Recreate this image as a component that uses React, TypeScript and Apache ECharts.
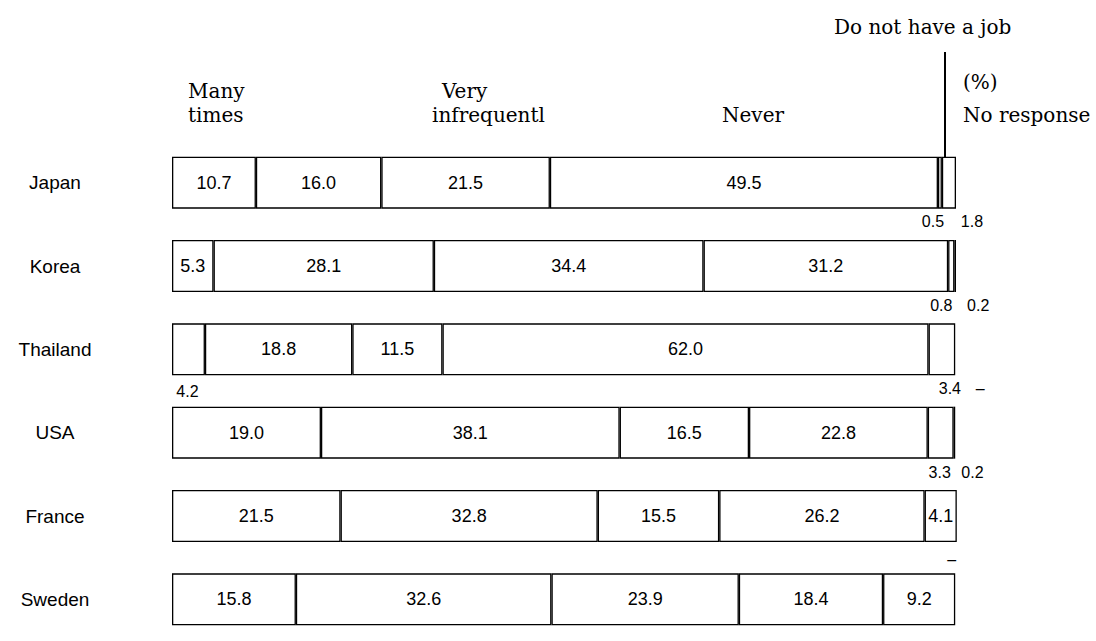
import React, { useEffect, useRef } from 'react';
import * as echarts from 'echarts';

const categories = ['Japan', 'Korea', 'Thailand', 'USA', 'France', 'Sweden'];
const manyTimes = [10.7, 5.3, 4.2, 19.0, 21.5, 15.8];
const sometimes = [16.0, 28.1, 18.8, 38.1, 32.8, 32.6];
const veryInfrequently = [21.5, 34.4, 11.5, 16.5, 15.5, 23.9];
const never = [49.5, 31.2, 62.0, 22.8, 26.2, 18.4];
const noJob = [0.5, 0.8, 3.4, 3.3, 4.1, 9.2];
// null: not asked; a dash is printed where flagged
const noResponse: (number | null)[] = [1.8, 0.2, null, 0.2, null, null];
const noResponseDash = [false, false, true, false, true, false];

const seriesNames = ['Many times', 'Sometimes', 'Very infrequently', 'Never', 'Do not have a job', 'No response'];
const seriesValues: (number | null)[][] = [manyTimes, sometimes, veryInfrequently, never, noJob, noResponse];

// segments too narrow for an inside label: printed under the bar, shifted by [dx, dy]
const outsideLabels: Record<string, [number, number]> = {
  '4-0': [-7, 0],
  '5-0': [23, 0],
  '4-1': [-10, 0],
  '5-1': [23, 0],
  '0-2': [-1, 3],
  '4-2': [8, 0],
  '5-2': [25, 0],
  '4-3': [-1, 1],
  '5-3': [18, 1],
  '5-4': [-5, 4],
};

const SANS = 'Liberation Sans, Arial, sans-serif';
const SERIF = 'DejaVu Serif, serif';

function buildData(values: (number | null)[], si: number) {
  return values.map((v, ci) => {
    const off = outsideLabels[`${si}-${ci}`];
    const outsideLabel = { show: true, position: 'bottom', distance: 5, offset: off || [0, 0], fontSize: 16 };
    if (v == null) {
      const dash = si === 5 && noResponseDash[ci];
      return {
        value: 0,
        itemStyle: { borderWidth: 0 },
        label: dash ? outsideLabel : { show: false },
      };
    }
    if (off) {
      return { value: v, label: outsideLabel };
    }
    return { value: v };
  });
}

export default function App() {
  const ref = useRef<HTMLDivElement>(null);

  useEffect(() => {
    if (!ref.current) return;
    const chart = echarts.init(ref.current, undefined, { renderer: 'svg' });

    const headerText = (text: string, x: number, y: number) => ({
      type: 'text',
      x,
      y,
      silent: true,
      style: {
        text,
        fontFamily: SERIF,
        fontSize: 20,
        fill: '#000',
        align: 'left',
        verticalAlign: 'middle',
      },
    });

    chart.setOption({
      animation: false,
      backgroundColor: '#fff',
      grid: { left: 172, width: 784, top: 141, height: 504 },
      xAxis: {
        type: 'value',
        min: 0,
        max: 100,
        show: false,
      },
      yAxis: {
        type: 'category',
        inverse: true,
        data: categories,
        axisLine: { show: false },
        axisTick: { show: false },
        splitLine: { show: false },
        axisLabel: {
          align: 'center',
          margin: 117,
          fontFamily: SANS,
          fontSize: 19,
          color: '#000',
        },
      },
      series: seriesValues.map((vals, si) => ({
        type: 'bar',
        name: seriesNames[si],
        stack: 'total',
        barWidth: 52,
        clip: false,
        emphasis: { disabled: true },
        itemStyle: { color: '#fff', borderColor: '#000', borderWidth: 1.3 },
        label: {
          show: true,
          position: 'inside',
          fontFamily: SANS,
          fontSize: 18,
          color: '#000',
          formatter: (p: any) => (p.value === 0 ? '–' : Number(p.value).toFixed(1)),
        },
        data: buildData(vals, si),
      })),
      graphic: [
        headerText('Many', 188, 91),
        headerText('times', 188, 115),
        headerText('Very', 442, 91),
        headerText('infrequentl', 432, 115),
        headerText('Never', 722, 115),
        headerText('Do not have a job', 834, 27),
        headerText('(%)', 963, 82),
        headerText('No response', 963, 115),
        {
          type: 'line',
          silent: true,
          shape: { x1: 945, y1: 52, x2: 945, y2: 157 },
          style: { stroke: '#000', lineWidth: 2 },
        },
      ],
    });

    return () => chart.dispose();
  }, []);

  return (
    <div
      ref={ref}
      style={{ position: 'absolute', left: 0, top: 0, width: 1096, height: 641, background: '#fff' }}
    />
  );
}
